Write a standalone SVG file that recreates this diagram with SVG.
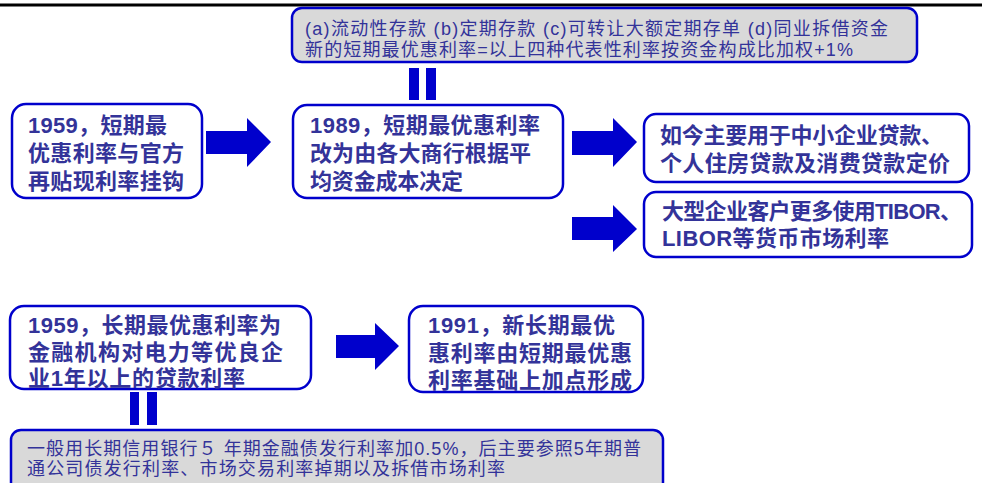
<svg xmlns="http://www.w3.org/2000/svg" width="982" height="483" viewBox="0 0 982 483">
<style>
.box{fill:#fff;stroke:#0000CC;stroke-width:2.5}
.gbox{fill:#D9D9D9;stroke:#0000CC;stroke-width:2.5}
.arr{fill:#0000CC}
.t{font-family:"Liberation Sans","Noto Sans CJK SC",sans-serif;font-weight:bold;font-size:22px;fill:#333399}
.n{font-family:"Liberation Sans","Noto Sans CJK SC",sans-serif;font-size:18px;fill:#333399}
</style>
<rect x="0" y="0" width="982" height="483" fill="#fff"/>
<line x1="0" y1="5" x2="982" y2="5" stroke="#000" stroke-width="3"/>
<g id="connectors">
<rect class="arr" x="409" y="68" width="10" height="32"/>
<rect class="arr" x="426" y="68" width="10" height="32"/>
<polygon class="arr" points="206,131 247,131 247,118 271,142 247,167 247,154 206,154"/>
<polygon class="arr" points="572,131 613,131 613,118 637,142 613,167 613,155 572,155"/>
<polygon class="arr" points="572,217 613,217 613,205 637,229 613,252 613,240 572,240"/>
<polygon class="arr" points="336,335 375,335 375,323 399,346 375,370 375,358 336,358"/>
<rect class="arr" x="130" y="392" width="9" height="33"/>
<rect class="arr" x="147" y="392" width="10" height="33"/>
</g>
<g id="note-top">
<rect class="gbox" x="292" y="8" width="625" height="54" rx="10"/>
<text class="n" x="305" y="35" textLength="583" lengthAdjust="spacing">(a)流动性存款 (b)定期存款 (c)可转让大额定期存单 (d)同业拆借资金</text>
<text class="n" x="305" y="56" textLength="548" lengthAdjust="spacing">新的短期最优惠利率=以上四种代表性利率按资金构成比加权+1%</text>
</g>
<g id="box-1959-short">
<rect class="box" x="12" y="104" width="190" height="94" rx="14"/>
<text class="t" x="28" y="133" textLength="139" lengthAdjust="spacing">1959，短期最</text>
<text class="t" x="28" y="161" textLength="156" lengthAdjust="spacing">优惠利率与官方</text>
<text class="t" x="28" y="189" textLength="156" lengthAdjust="spacing">再贴现利率挂钩</text>
</g>
<g id="box-1989">
<rect class="box" x="293" y="105" width="270" height="93" rx="14"/>
<text class="t" x="310" y="133" textLength="230" lengthAdjust="spacing">1989，短期最优惠利率</text>
<text class="t" x="310" y="161" textLength="221" lengthAdjust="spacing">改为由各大商行根据平</text>
<text class="t" x="310" y="189" textLength="153" lengthAdjust="spacing">均资金成本决定</text>
</g>
<g id="box-now">
<rect class="box" x="644" y="114" width="325" height="68" rx="12"/>
<text class="t" x="660" y="143" textLength="283" lengthAdjust="spacing">如今主要用于中小企业贷款、</text>
<text class="t" x="660" y="171" textLength="290" lengthAdjust="spacing">个人住房贷款及消费贷款定价</text>
</g>
<g id="box-large">
<rect class="box" x="644" y="192" width="328" height="65" rx="12"/>
<text class="t" x="662" y="219" textLength="300" lengthAdjust="spacing">大型企业客户更多使用TIBOR、</text>
<text class="t" x="662" y="246" textLength="227" lengthAdjust="spacing">LIBOR等货币市场利率</text>
</g>
<g id="box-1959-long">
<rect class="box" x="10" y="306" width="301" height="83" rx="14"/>
<text class="t" x="28" y="333" textLength="253" lengthAdjust="spacing">1959，长期最优惠利率为</text>
<text class="t" x="28" y="360" textLength="255" lengthAdjust="spacing">金融机构对电力等优良企</text>
<text class="t" x="28" y="386" textLength="217" lengthAdjust="spacing">业1年以上的贷款利率</text>
</g>
<g id="box-1991">
<rect class="box" x="409" y="306" width="234" height="86" rx="14"/>
<text class="t" x="428" y="333" textLength="187" lengthAdjust="spacing">1991，新长期最优</text>
<text class="t" x="428" y="361" textLength="204" lengthAdjust="spacing">惠利率由短期最优惠</text>
<text class="t" x="428" y="388" textLength="204" lengthAdjust="spacing">利率基础上加点形成</text>
</g>
<g id="note-bottom">
<rect class="gbox" x="11" y="430" width="652" height="62" rx="10"/>
<text class="n" x="27" y="455" textLength="614" lengthAdjust="spacing">一般用长期信用银行５ 年期金融债发行利率加0.5%，后主要参照5年期普</text>
<text class="n" x="27" y="475" textLength="478" lengthAdjust="spacing">通公司债发行利率、市场交易利率掉期以及拆借市场利率</text>
</g>
</svg>
